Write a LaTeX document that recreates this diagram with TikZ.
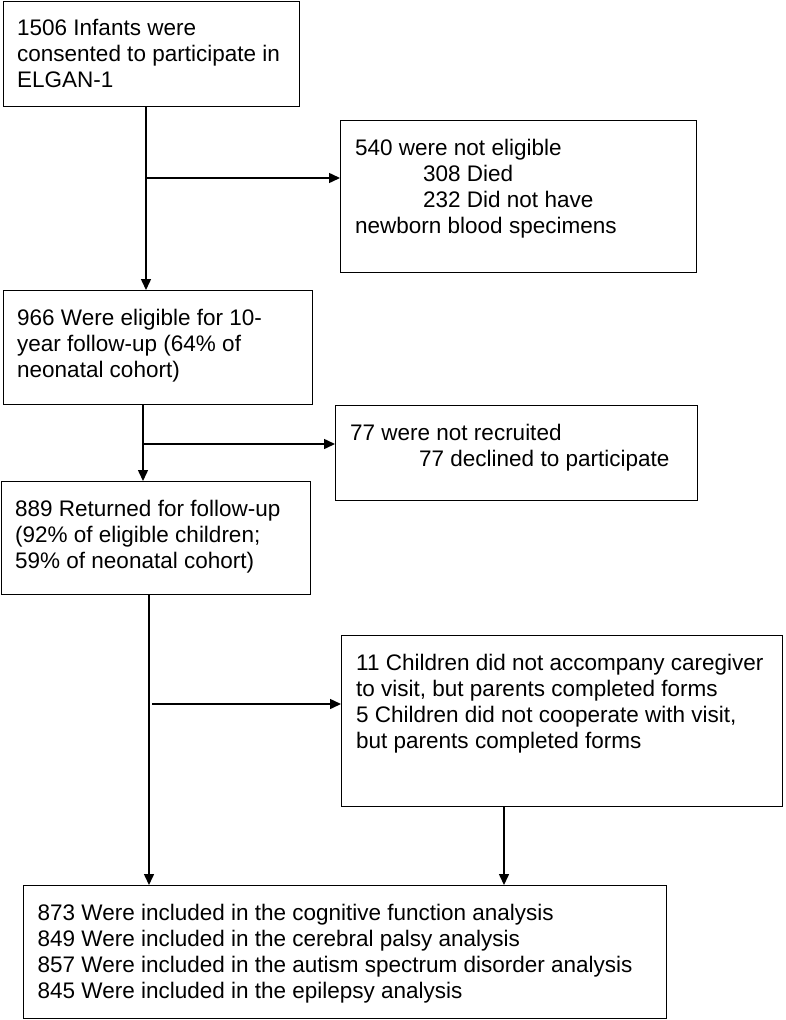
\documentclass[tikz,border=0pt]{standalone}
\usepackage{fontspec}
\setmainfont{Liberation Sans}
\usetikzlibrary{arrows.meta}

\begin{document}
\begin{tikzpicture}[x=1pt, y=-1pt, >=Stealth]

    \tikzstyle{box} = [rectangle, draw=black, line width=1.4pt, anchor=north west, inner sep=0pt]
    \tikzstyle{txt} = [anchor=north west, inner sep=0pt, align=left, font=\fontsize{22.5pt}{26pt}\selectfont]
    \tikzstyle{arrow} = [line width=1.5pt, -{Triangle[length=11pt, width=10pt]}]

    \useasboundingbox (0,0) rectangle (786,1020);

    % Boxes
    \node (consent) [box, minimum width=296pt, minimum height=105pt] at (3,1) {};
    \node (notelig) [box, minimum width=356pt, minimum height=152pt] at (340,120) {};
    \node (elig) [box, minimum width=309pt, minimum height=114pt] at (3,290) {};
    \node (notrecr) [box, minimum width=362pt, minimum height=95pt] at (335,405) {};
    \node (returned) [box, minimum width=309pt, minimum height=113pt] at (1,481) {};
    \node (forms) [box, minimum width=441pt, minimum height=171pt] at (341,635) {};
    \node (included) [box, minimum width=643pt, minimum height=133pt] at (23,885) {};

    % Texts
    \node (consenttxt) [txt] at ([shift={(14pt,-16.3pt)}]consent.north west) {\strut 1506 Infants were\\consented to participate in\\ELGAN-1};
    \node (noteligtxt) [txt] at ([shift={(15pt,-17.3pt)}]notelig.north west) {\strut 540 were not eligible\\\hspace*{68pt}308 Died\\\hspace*{68pt}232 Did not have\\newborn blood specimens};
    \node (eligtxt) [txt] at ([shift={(14pt,-17.3pt)}]elig.north west) {\strut 966 Were eligible for 10-\\year follow-up (64\% of\\neonatal cohort)};
    \node (notrecrtxt) [txt] at ([shift={(15pt,-17.3pt)}]notrecr.north west) {\strut 77 were not recruited\\\hspace*{69pt}77 declined to participate};
    \node (returnedtxt) [txt] at ([shift={(14pt,-17.3pt)}]returned.north west) {\strut 889 Returned for follow-up\\(92\% of eligible children;\\59\% of neonatal cohort)};
    \node (formstxt) [txt] at ([shift={(15pt,-17.3pt)}]forms.north west) {\strut 11 Children did not accompany caregiver\\to visit, but parents completed forms\\5 Children did not cooperate with visit,\\but parents completed forms};
    \node (includedtxt) [txt] at ([shift={(14.5pt,-17.3pt)}]included.north west) {\strut 873 Were included in the cognitive function analysis\\849 Were included in the cerebral palsy analysis\\857 Were included in the autism spectrum disorder analysis\\845 Were included in the epilepsy analysis};

    % Junctions
    \coordinate (split1) at (146,178);
    \coordinate (split2) at (143,444);
    \coordinate (split3) at (149,704);
    \coordinate (drop) at (504,845);

    % Arrows
    \draw [arrow] (consent.south -| split1) -- (elig.north -| split1);
    \draw [arrow] (split1) -- (split1 -| notelig.west);
    \draw [arrow] (elig.south -| split2) -- (returned.north -| split2);
    \draw [arrow] (split2) -- (split2 -| notrecr.west);
    \draw [arrow] (returned.south -| split3) -- (included.north -| split3);
    \draw [arrow] ([xshift=3pt]split3) -- (split3 -| forms.west);
    \draw [arrow] (forms.south -| drop) -- (included.north -| drop);

\end{tikzpicture}
\end{document}
